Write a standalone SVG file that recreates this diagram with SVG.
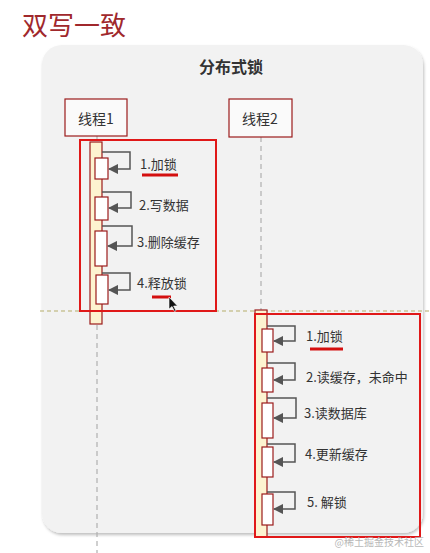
<svg xmlns="http://www.w3.org/2000/svg" width="430" height="553" viewBox="0 0 430 553">
<style>
text{font-family:"Microsoft YaHei","Noto Sans CJK SC","Liberation Sans",sans-serif;}
.lbl{font-size:13px;fill:#333;dominant-baseline:central;}
.life{stroke:#b0b0b0;stroke-width:1.2;stroke-dasharray:5,4;fill:none;}
.bar{fill:#fdf3d0;stroke:#9b1c1c;stroke-width:1.2;}
.act{fill:#ffffff;stroke:#9b1c1c;stroke-width:1.2;}
.self{fill:none;stroke:#555;stroke-width:1.5;}
.hl{fill:none;stroke:#e01818;stroke-width:2;}
.ul{stroke:#d40f0f;stroke-width:3;}
.head{fill:#fafafa;stroke:#9b1c1c;stroke-width:1.2;}
</style>
<defs>
<marker id="ah" viewBox="0 0 10 10" refX="9" refY="5" markerWidth="7" markerHeight="7" orient="auto">
<path d="M0,0 L10,5 L0,10 z" fill="#555"/>
</marker>
<filter id="sh" x="-5%" y="-5%" width="110%" height="110%">
<feDropShadow dx="1" dy="2" stdDeviation="1.5" flood-color="#000" flood-opacity="0.25"/>
</filter>
</defs>
<rect width="430" height="553" fill="#ffffff"/>
<text x="22" y="35" font-size="26" fill="#a0282c">双写一致</text>
<g id="panel">
<rect x="42" y="45" width="381" height="488" rx="20" ry="20" fill="#f2f2f2" filter="url(#sh)"/>
<text x="231" y="73" font-size="16" font-weight="bold" fill="#333" text-anchor="middle">分布式锁</text>
</g>
<g id="separator">
<line x1="40" y1="311" x2="430" y2="311" stroke="#b5ad6a" stroke-width="1" stroke-dasharray="4,3"/>
</g>
<g id="thread1">
<line class="life" x1="97" y1="136" x2="97" y2="553"/>
<rect class="head" x="65" y="99" width="62" height="37"/>
<text x="96" y="118" font-size="14" fill="#333" text-anchor="middle" dominant-baseline="central">线程1</text>
</g>
<g id="thread2">
<line class="life" x1="261" y1="137" x2="261" y2="310"/>
<rect class="head" x="229" y="99" width="63" height="38"/>
<text x="260" y="118" font-size="14" fill="#333" text-anchor="middle" dominant-baseline="central">线程2</text>
</g>
<g id="bar1">
<rect class="bar" x="90" y="142" width="12" height="182"/>
</g>
<g id="bar2">
<rect class="bar" x="255" y="310" width="12" height="227"/>
</g>
<g id="t1-steps">
<rect class="act" x="95" y="158" width="13" height="21"/>
<rect class="act" x="95" y="197" width="13" height="23"/>
<rect class="act" x="95" y="231" width="12" height="35"/>
<rect class="act" x="96" y="275" width="12" height="29"/>
<text class="lbl" x="140" y="163">1.加锁</text>
<text class="lbl" x="139" y="204">2.写数据</text>
<text class="lbl" x="137" y="241">3.删除缓存</text>
<text class="lbl" x="137" y="282">4.释放锁</text>
</g>
<g id="t2-steps">
<rect class="act" x="262" y="329" width="11" height="23"/>
<rect class="act" x="262" y="368" width="11" height="24"/>
<rect class="act" x="262" y="403" width="11" height="35"/>
<rect class="act" x="262" y="447" width="11" height="30"/>
<rect class="act" x="262" y="494" width="11" height="31"/>
<text class="lbl" x="306" y="335">1.加锁</text>
<text class="lbl" x="306" y="376">2.读缓存，未命中</text>
<text class="lbl" x="304" y="412">3.读数据库</text>
<text class="lbl" x="305" y="453">4.更新缓存</text>
<text class="lbl" x="307" y="501">5. 解锁</text>
</g>
<g id="connectors">
<path class="self" d="M102,152 H130 V169 H109" marker-end="url(#ah)"/>
<path class="self" d="M102,192 H131 V208 H109" marker-end="url(#ah)"/>
<path class="self" d="M102,226 H132 V246 H108" marker-end="url(#ah)"/>
<path class="self" d="M102,273 H130 V290 H109" marker-end="url(#ah)"/>
<path class="self" d="M267,326 H295 V341 H274" marker-end="url(#ah)"/>
<path class="self" d="M267,363 H295 V380 H274" marker-end="url(#ah)"/>
<path class="self" d="M267,398 H296 V418 H274" marker-end="url(#ah)"/>
<path class="self" d="M267,444 H295 V462 H274" marker-end="url(#ah)"/>
<path class="self" d="M267,492 H295 V509 H274" marker-end="url(#ah)"/>
</g>
<g id="highlights">
<rect class="hl" x="80" y="140" width="136" height="171"/>
<rect class="hl" x="255" y="314" width="165" height="223"/>
<line class="ul" x1="142" y1="175" x2="178" y2="175"/>
<line class="ul" x1="152" y1="297" x2="171" y2="297" stroke-width="4"/>
<line class="ul" x1="310" y1="349" x2="343" y2="349"/>
<path d="M169,297 L169,309 L172,306.5 L174.5,311.5 L176,310.8 L173.6,306 L177.5,306 Z" fill="#111" stroke="#fff" stroke-width="0.6"/>
</g>
<text x="424" y="546" font-size="10" fill="#b8b8b8" text-anchor="end">@稀土掘金技术社区</text>
</svg>
